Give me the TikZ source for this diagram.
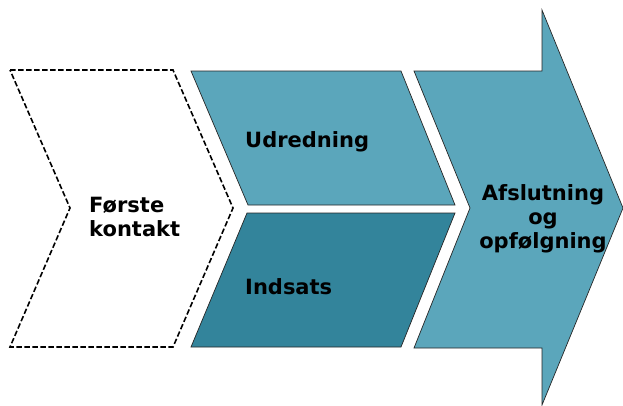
\documentclass[tikz,border=0pt]{standalone}
\usepackage{fontspec}
\setsansfont{DejaVu Sans}
\definecolor{lightteal}{RGB}{91,166,187}
\definecolor{darkteal}{RGB}{51,132,155}
\tikzset{
  stage/.style={draw=black!85, line width=0.7pt},
  steptext/.style={font=\sffamily\bfseries\fontsize{21}{24}\selectfont, inner sep=0pt}
}
\begin{document}
\begin{tikzpicture}[x=1pt, y=-1pt]
  \useasboundingbox (0,0) rectangle (623,405);
  % Shapes
  \draw[line width=1.6pt, dash pattern=on 5.5pt off 2.5pt, fill=white]
    (10,70) -- (173,70) -- (233,208) -- (173,347) -- (10,347) -- (70,208) -- cycle;
  \draw[stage, fill=lightteal] (191,71) -- (401,71) -- (455,205) -- (248,205) -- cycle;
  \draw[stage, fill=darkteal] (247,213) -- (455,213) -- (401,347) -- (191,347) -- cycle;
  \draw[stage, fill=lightteal]
    (414,71) -- (542,71) -- (542,10) -- (623,208) -- (542,405) -- (542,348) -- (414,348) -- (470,208) -- cycle;

  % Labels
  \node[steptext, anchor=west, align=left] (first) at (89,217) {Første\\kontakt};
  \node[steptext, anchor=west] (assess) at (245,142) {Udredning};
  \node[steptext, anchor=west] (effort) at (245,287) {Indsats};
  \node[steptext, align=center] (closing) at (543,219) {Afslutning\\og\\opfølgning};
\end{tikzpicture}
\end{document}
